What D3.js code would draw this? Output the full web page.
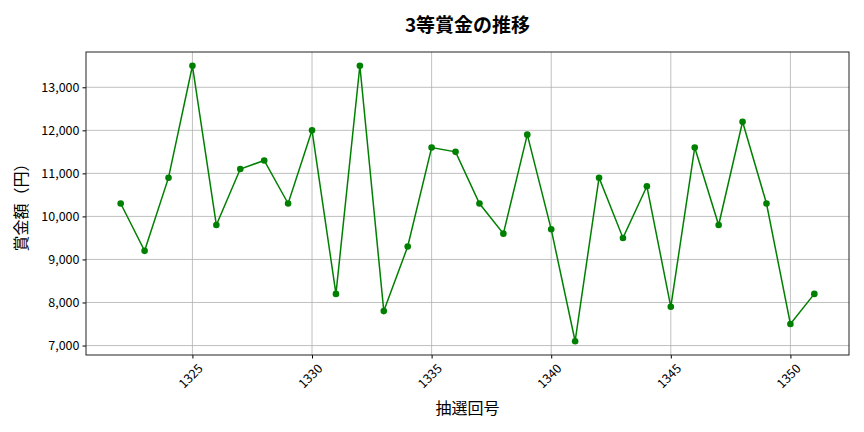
<!DOCTYPE html>
<html>
<head>
<meta charset="utf-8">
<script src="https://cdn.jsdelivr.net/npm/d3@7"></script>
<style>
  body { margin: 0; background: #fff; }
  svg { display: block; font-family: "Noto Sans CJK JP", "Noto Sans", sans-serif; }
</style>
</head>
<body>
<svg id="chart" width="864" height="432"></svg>
<script>
// 抽選回号 and 3等賞金
const draws = [1322, 1323, 1324, 1325, 1326, 1327, 1328, 1329, 1330, 1331,
               1332, 1333, 1334, 1335, 1336, 1337, 1338, 1339, 1340, 1341,
               1342, 1343, 1344, 1345, 1346, 1347, 1348, 1349, 1350, 1351];
const prizes = [10300, 9200, 10900, 13500, 9800, 11100, 11300, 10300, 12000, 8200,
                13500, 7800, 9300, 11600, 11500, 10300, 9600, 11900, 9700, 7100,
                10900, 9500, 10700, 7900, 11600, 9800, 12200, 10300, 7500, 8200];
const xTicks = [1325, 1330, 1335, 1340, 1345, 1350];
const yTicks = [7000, 8000, 9000, 10000, 11000, 12000, 13000];

const width = 864;
const height = 432;
const margin = {top: 52, right: 15, bottom: 77, left: 86};
const font = '"Noto Sans CJK JP", "Noto Sans", sans-serif';

const svg = d3.select('#chart');
const data = draws.map((d, i) => ({draw: d, prize: prizes[i]}));

// matplotlib style 5% padding on both axes
const xExt = d3.extent(draws);
const xPad = (xExt[1] - xExt[0]) * 0.05;
const yExt = d3.extent(prizes);
const yPad = (yExt[1] - yExt[0]) * 0.05;

const xScale = d3.scaleLinear().domain([xExt[0] - xPad, xExt[1] + xPad]).range([margin.left, width - margin.right]);
const yScale = d3.scaleLinear().domain([yExt[0] - yPad, yExt[1] + yPad]).range([height - margin.bottom, margin.top]);

// grid
svg.append('g')
   .selectAll('line')
   .data(xTicks)
   .join('line')
   .attr('x1', d => xScale(d)).attr('x2', d => xScale(d))
   .attr('y1', margin.top).attr('y2', height - margin.bottom)
   .attr('stroke', '#b0b0b0').attr('stroke-width', 0.8);
svg.append('g')
   .selectAll('line')
   .data(yTicks)
   .join('line')
   .attr('x1', margin.left).attr('x2', width - margin.right)
   .attr('y1', d => yScale(d)).attr('y2', d => yScale(d))
   .attr('stroke', '#b0b0b0').attr('stroke-width', 0.8);

const xAxis = d3.axisBottom(xScale).tickValues(xTicks).tickFormat(d3.format('d')).tickSize(3.5).tickPadding(3);
const yAxis = d3.axisLeft(yScale).tickValues(yTicks).tickFormat(d3.format(',')).tickSize(3.5).tickPadding(3);

const gx = svg.append('g')
   .attr('transform', `translate(0,${height - margin.bottom})`)
   .call(xAxis)
   .attr('font-family', font);
gx.select('.domain').remove();
gx.selectAll('text')
   .attr('font-size', 12.5).attr('fill', '#000')
   .attr('text-anchor', 'end')
   .attr('dx', '-0.2em').attr('dy', '0.9em')
   .attr('transform', 'rotate(-45)');

const gy = svg.append('g')
   .attr('transform', `translate(${margin.left},0)`)
   .call(yAxis)
   .attr('font-family', font);
gy.select('.domain').remove();
gy.selectAll('text').attr('font-size', 12.5).attr('fill', '#000');

// frame
svg.append('rect')
   .attr('x', margin.left).attr('y', margin.top)
   .attr('width', width - margin.left - margin.right)
   .attr('height', height - margin.top - margin.bottom)
   .attr('fill', 'none').attr('stroke', '#222').attr('stroke-width', 1);

const line = d3.line().x(d => xScale(d.draw)).y(d => yScale(d.prize));
svg.append('path')
   .datum(data)
   .attr('d', line)
   .attr('fill', 'none').attr('stroke', 'green').attr('stroke-width', 1.5);

svg.append('g')
   .selectAll('circle')
   .data(data)
   .join('circle')
   .attr('cx', d => xScale(d.draw)).attr('cy', d => yScale(d.prize))
   .attr('r', 3.3).attr('fill', 'green');

// titles
svg.append('text')
   .attr('x', (margin.left + width - margin.right) / 2).attr('y', 32)
   .attr('text-anchor', 'middle').attr('font-size', 19).attr('font-weight', 'bold')
   .text('3等賞金の推移');
svg.append('text')
   .attr('x', (margin.left + width - margin.right) / 2).attr('y', 414)
   .attr('text-anchor', 'middle').attr('font-size', 16)
   .text('抽選回号');
svg.append('text')
   .attr('transform', `translate(27,${(margin.top + height - margin.bottom) / 2}) rotate(-90)`)
   .attr('text-anchor', 'middle').attr('font-size', 16)
   .text('賞金額（円）');
</script>
</body>
</html>
